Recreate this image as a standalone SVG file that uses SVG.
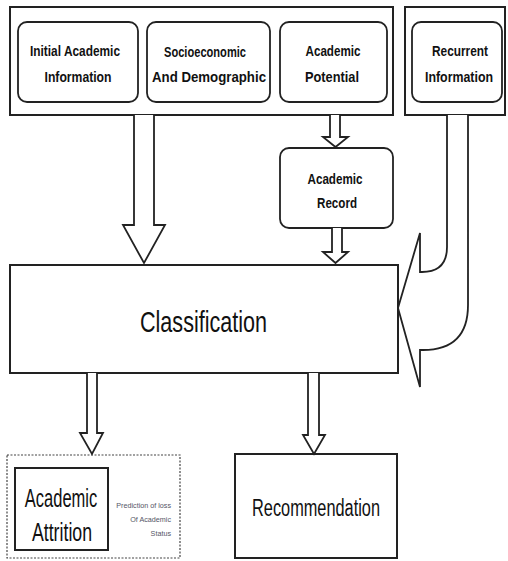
<svg xmlns="http://www.w3.org/2000/svg" width="508" height="561" viewBox="0 0 508 561">
<style>
.box{fill:#fff;stroke:#222;stroke-width:2}
.rbox{fill:#fff;stroke:#222;stroke-width:1.8}
.arr{fill:#fff;stroke:#222;stroke-width:1.8;stroke-linejoin:miter}
.lbl{font-family:"Liberation Sans",Arial,sans-serif;font-weight:bold;font-size:15px;fill:#111;text-anchor:middle}
.big{font-family:"Liberation Sans",Arial,sans-serif;fill:#111;text-anchor:middle}
.small{font-family:"Liberation Sans",Arial,sans-serif;font-size:7.2px;fill:#556;text-anchor:end}
</style>
<rect width="508" height="561" fill="#fff"/>
<g id="group-left">
<rect class="box" x="10" y="7" width="383" height="108"/>
</g>
<g id="group-right">
<rect class="box" x="405" y="7" width="100" height="108"/>
</g>
<g id="initial-academic">
<rect class="rbox" x="18" y="22" width="120" height="80" rx="9"/>
<text class="lbl" x="75" y="56" textLength="90" lengthAdjust="spacingAndGlyphs">Initial Academic</text>
<text class="lbl" x="78" y="82" textLength="67" lengthAdjust="spacingAndGlyphs">Information</text>
</g>
<g id="socioeconomic">
<rect class="rbox" x="147" y="22" width="123" height="80" rx="9"/>
<text class="lbl" x="205" y="57" textLength="82" lengthAdjust="spacingAndGlyphs">Socioeconomic</text>
<text class="lbl" x="209" y="82" textLength="114" lengthAdjust="spacingAndGlyphs">And Demographic</text>
</g>
<g id="academic-potential">
<rect class="rbox" x="280" y="22" width="107" height="80" rx="9"/>
<text class="lbl" x="333" y="56" textLength="55" lengthAdjust="spacingAndGlyphs">Academic</text>
<text class="lbl" x="332" y="82" textLength="54" lengthAdjust="spacingAndGlyphs">Potential</text>
</g>
<g id="recurrent">
<rect class="rbox" x="412" y="22" width="90" height="80" rx="9"/>
<text class="lbl" x="460" y="56" textLength="56" lengthAdjust="spacingAndGlyphs">Recurrent</text>
<text class="lbl" x="459" y="82" textLength="68" lengthAdjust="spacingAndGlyphs">Information</text>
</g>
<g id="academic-record">
<rect class="rbox" x="280" y="148" width="113" height="80" rx="9"/>
<text class="lbl" x="335" y="184" textLength="55" lengthAdjust="spacingAndGlyphs">Academic</text>
<text class="lbl" x="337" y="208" textLength="40" lengthAdjust="spacingAndGlyphs">Record</text>
</g>
<g id="classification">
<rect class="box" x="10" y="265" width="388" height="108"/>
<text class="big" x="203.5" y="332" font-size="30" textLength="127" lengthAdjust="spacingAndGlyphs">Classification</text>
</g>
<g id="attrition-group">
<rect x="7" y="455" width="173" height="103" fill="none" stroke="#444" stroke-width="1.2" stroke-dasharray="2,1.5"/>
<rect class="box" x="15" y="468" width="93" height="82"/>
<g transform="translate(61,507) scale(0.66,1)"><text class="big" x="0" y="0" font-size="25">Academic</text></g>
<g transform="translate(62,541) scale(0.71,1)"><text class="big" x="0" y="0" font-size="25">Attrition</text></g>
<text class="small" x="171" y="508">Prediction of loss</text>
<text class="small" x="171" y="522">Of Academic</text>
<text class="small" x="171" y="536">Status</text>
</g>
<g id="recommendation">
<rect class="box" x="235" y="454" width="162" height="104"/>
<text class="big" x="316" y="516" font-size="23" textLength="128" lengthAdjust="spacingAndGlyphs">Recommendation</text>
</g>
<g id="connectors">
<path class="arr" d="M134,115 V225 H123 L144,263 L165,225 H154 V115"/>
<path class="arr" d="M330,115 V137 H323 L335.5,147 L348,137 H340 V115"/>
<path class="arr" d="M332,228 V252 H323 L335.5,263 L348,252 H342 V228"/>
<path class="arr" d="M447,115 V247 Q447,272 422,272 H420 V233 L398,308 L420,387 V350 H423 Q468,350 468,305 V115"/>
<path class="arr" d="M87,373 V433 H80 L92,454 L103,433 H97 V373"/>
<path class="arr" d="M308,373 V435 H303 L314,454 L325,435 H319 V373"/>
</g>
</svg>
